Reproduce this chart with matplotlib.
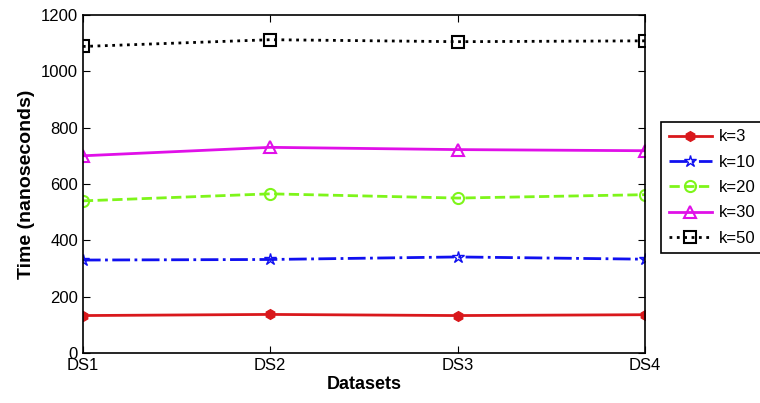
import matplotlib
import matplotlib.pyplot as plt

matplotlib.use('Agg')
plt.rcParams['font.family'] = ['Liberation Sans', 'DejaVu Sans']

datasets = ['DS1', 'DS2', 'DS3', 'DS4']
k3 = [133, 137, 133, 136]
k10 = [330, 332, 341, 333]
k20 = [540, 565, 550, 562]
k30 = [700, 730, 722, 718]
k50 = [1088, 1112, 1105, 1108]

series = [
    ('k=3', k3, '#d9181c', '-', 'h'),
    ('k=10', k10, '#1010f0', '-.', '*'),
    ('k=20', k20, '#7ef51a', '--', 'o'),
    ('k=30', k30, '#e010e8', '-', '^'),
    ('k=50', k50, 'black', ':', 's'),
]

fig = plt.figure(figsize=(7.6, 4.03), dpi=100)
ax = fig.add_axes([0.109, 0.124, 0.740, 0.839])
x = range(len(datasets))
for label, vals, color, ls, mk in series:
    if label == 'k=3':
        ax.plot(x, vals, color=color, linestyle=ls, linewidth=2, marker=mk,
                markersize=7, markerfacecolor=color, label=label)
    elif label == 'k=10':
        ax.plot(x, vals, color=color, linestyle=ls, linewidth=2, marker=mk,
                markersize=9, markerfacecolor='none', label=label)
    else:
        ax.plot(x, vals, color=color, linestyle=ls, linewidth=2, marker=mk,
                markersize=8, markerfacecolor='none', markeredgewidth=1.5, label=label)

ax.set_xlim(0, 3)
ax.set_ylim(0, 1200)
ax.set_xticks(list(x))
ax.set_xticklabels(datasets)
ax.set_yticks(range(0, 1201, 200))
ax.tick_params(direction='in', length=5, labelsize=12, top=True, right=True)
for sp in ax.spines.values():
    sp.set_linewidth(1.2)
ax.set_xlabel('Datasets', fontsize=13, fontweight='bold', labelpad=2)
ax.set_ylabel('Time (nanoseconds)', fontsize=14, fontweight='bold')

leg = fig.legend(loc='upper left', bbox_to_anchor=(0.859, 0.718), fontsize=12,
                 fancybox=False, edgecolor='black', framealpha=1,
                 handlelength=2.6, handletextpad=0.4, borderpad=0.45,
                 labelspacing=0.62)
leg.get_frame().set_linewidth(1.2)

plt.savefig('out.png', dpi=100)
plt.close()
